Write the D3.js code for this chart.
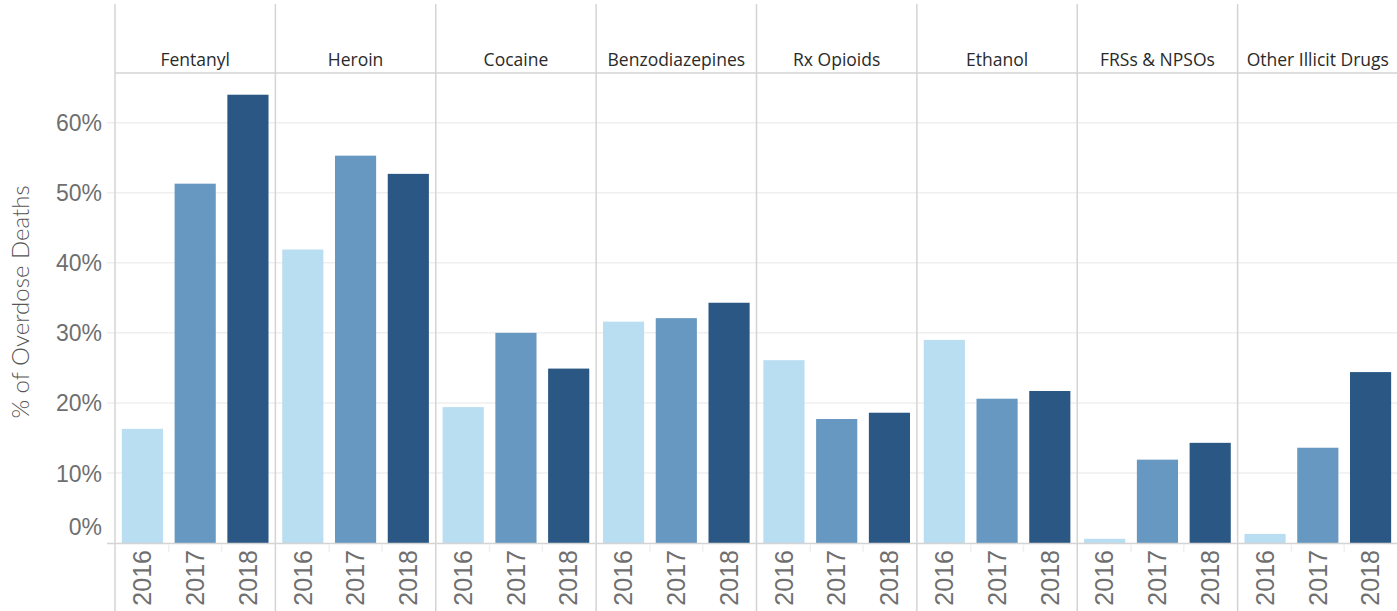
<!DOCTYPE html>
<html>
<head>
<meta charset="utf-8">
<script src="https://cdn.jsdelivr.net/npm/d3@7"></script>
<style>
  body { margin: 0; background: #fff; }
  svg { display: block; font-family: Lato, "Open Sans", sans-serif; }
</style>
</head>
<body>
<div id="chart"></div>
<script>
// drug categories (panels) and years (bars inside each panel)
const drugs = ["Fentanyl", "Heroin", "Cocaine", "Benzodiazepines", "Rx Opioids", "Ethanol", "FRSs & NPSOs", "Other Illicit Drugs"];
const years = ["2016", "2017", "2018"];

// % of overdose deaths, one array per year, in drug order
const pct2016 = [16.3, 41.9, 19.4, 31.6, 26.1, 29.0, 0.6, 1.3];
const pct2017 = [51.3, 55.3, 30.0, 32.1, 17.7, 20.6, 11.9, 13.6];
const pct2018 = [64.0, 52.7, 24.9, 34.3, 18.6, 21.7, 14.3, 24.4];

const yTicks = [0, 10, 20, 30, 40, 50, 60];
const yearColors = ["#b9ddf1", "#6798c1", "#2a5783"];

const data = [];
drugs.forEach((drug, i) => {
    [pct2016, pct2017, pct2018].forEach((series, j) => {
        data.push({ drug, year: years[j], value: series[i] });
    });
});

const W = 1397, H = 611;
const margin = { top: 73, right: -1, bottom: 68, left: 115 },
    width = W - margin.left - margin.right,
    height = H - margin.top - margin.bottom;

const svg = d3.select("#chart")
    .append("svg")
    .attr("width", W)
    .attr("height", H);

const g = svg.append("g")
    .attr("transform", `translate(${margin.left},${margin.top})`);

const x0 = d3.scaleBand().domain(drugs).range([0, width]);
const x1 = d3.scaleBand().domain(years).range([0, x0.bandwidth()]).paddingInner(0.22).paddingOuter(0.13);
const y = d3.scaleLinear().domain([0, 67.1]).range([height, 0]);
const color = d3.scaleOrdinal().domain(years).range(yearColors);

// gridlines
g.append("g")
    .selectAll("line")
    .data(yTicks.filter(d => d > 0))
    .enter()
    .append("line")
    .attr("x1", -8)
    .attr("x2", width)
    .attr("y1", d => y(d))
    .attr("y2", d => y(d))
    .attr("stroke", "#efefef")
    .attr("stroke-width", 1.5);

// y axis labels
const yAxis = g.append("g")
    .call(d3.axisLeft(y).tickValues(yTicks).tickFormat(d => d + "%").tickSize(0).tickPadding(13));
yAxis.select(".domain").remove();
yAxis.selectAll("text")
    .style("font-size", "23px")
    .style("font-weight", 300)
    .attr("fill", "#6f6f6f")
    .attr("dy", d => d === 0 ? "-0.35em" : "0.35em");

svg.append("text")
    .attr("transform", `translate(29,${margin.top + height / 2 - 6}) rotate(-90)`)
    .attr("text-anchor", "middle")
    .style("font-size", "24px")
    .style("font-weight", 300)
    .attr("fill", "#555")
    .text("% of Overdose Deaths");

// bars
g.selectAll(".bar")
    .data(data)
    .enter()
    .append("rect")
    .attr("class", "bar")
    .attr("x", d => x0(d.drug) + x1(d.year))
    .attr("y", d => y(d.value))
    .attr("width", x1.bandwidth())
    .attr("height", d => y(0) - y(d.value))
    .attr("fill", d => color(d.year));

// baseline
g.append("line")
    .attr("x1", -8)
    .attr("x2", width)
    .attr("y1", y(0) + 0.5)
    .attr("y2", y(0) + 0.5)
    .attr("stroke", "#d4d4d4")
    .attr("stroke-width", 1.5);

// header line
svg.append("line")
    .attr("x1", margin.left)
    .attr("x2", W)
    .attr("y1", margin.top)
    .attr("y2", margin.top)
    .attr("stroke", "#d4d4d4")
    .attr("stroke-width", 1.5);

// panel separators
svg.append("g")
    .selectAll("line")
    .data(drugs)
    .enter()
    .append("line")
    .attr("x1", d => margin.left + x0(d))
    .attr("x2", d => margin.left + x0(d))
    .attr("y1", 4)
    .attr("y2", H)
    .attr("stroke", "#d4d4d4")
    .attr("stroke-width", 1.5);

// panel headers
svg.append("g")
    .selectAll("text")
    .data(drugs)
    .enter()
    .append("text")
    .attr("x", d => margin.left + x0(d) + x0.bandwidth() / 2)
    .attr("y", 66)
    .attr("text-anchor", "middle")
    .style("font-family", "'Open Sans', sans-serif")
    .style("font-size", "17.5px")
    .attr("fill", "#2a2a2a")
    .text(d => d);

// year labels and small ticks in every panel
drugs.forEach(drug => {
    const px = margin.left + x0(drug);
    const xa = svg.append("g")
        .attr("transform", `translate(${px},${margin.top + height + 1})`)
        .call(d3.axisBottom(x1).tickSize(0).tickPadding(6));
    xa.select(".domain").remove();
    xa.selectAll("text")
        .attr("transform", "rotate(-90)")
        .attr("text-anchor", "end")
        .attr("x", -6)
        .attr("y", 0)
        .attr("dy", "0.35em")
        .style("font-size", "25px")
        .style("font-weight", 300)
        .attr("fill", "#6f6f6f");
    xa.selectAll(".between")
        .data(years.slice(1))
        .enter()
        .append("line")
        .attr("class", "between")
        .attr("x1", d => x1(d) - x1.step() * x1.paddingInner() / 2)
        .attr("x2", d => x1(d) - x1.step() * x1.paddingInner() / 2)
        .attr("y1", 0)
        .attr("y2", 8)
        .attr("stroke", "#f0f0f0")
        .attr("stroke-width", 1.5);
});
</script>
</body>
</html>
